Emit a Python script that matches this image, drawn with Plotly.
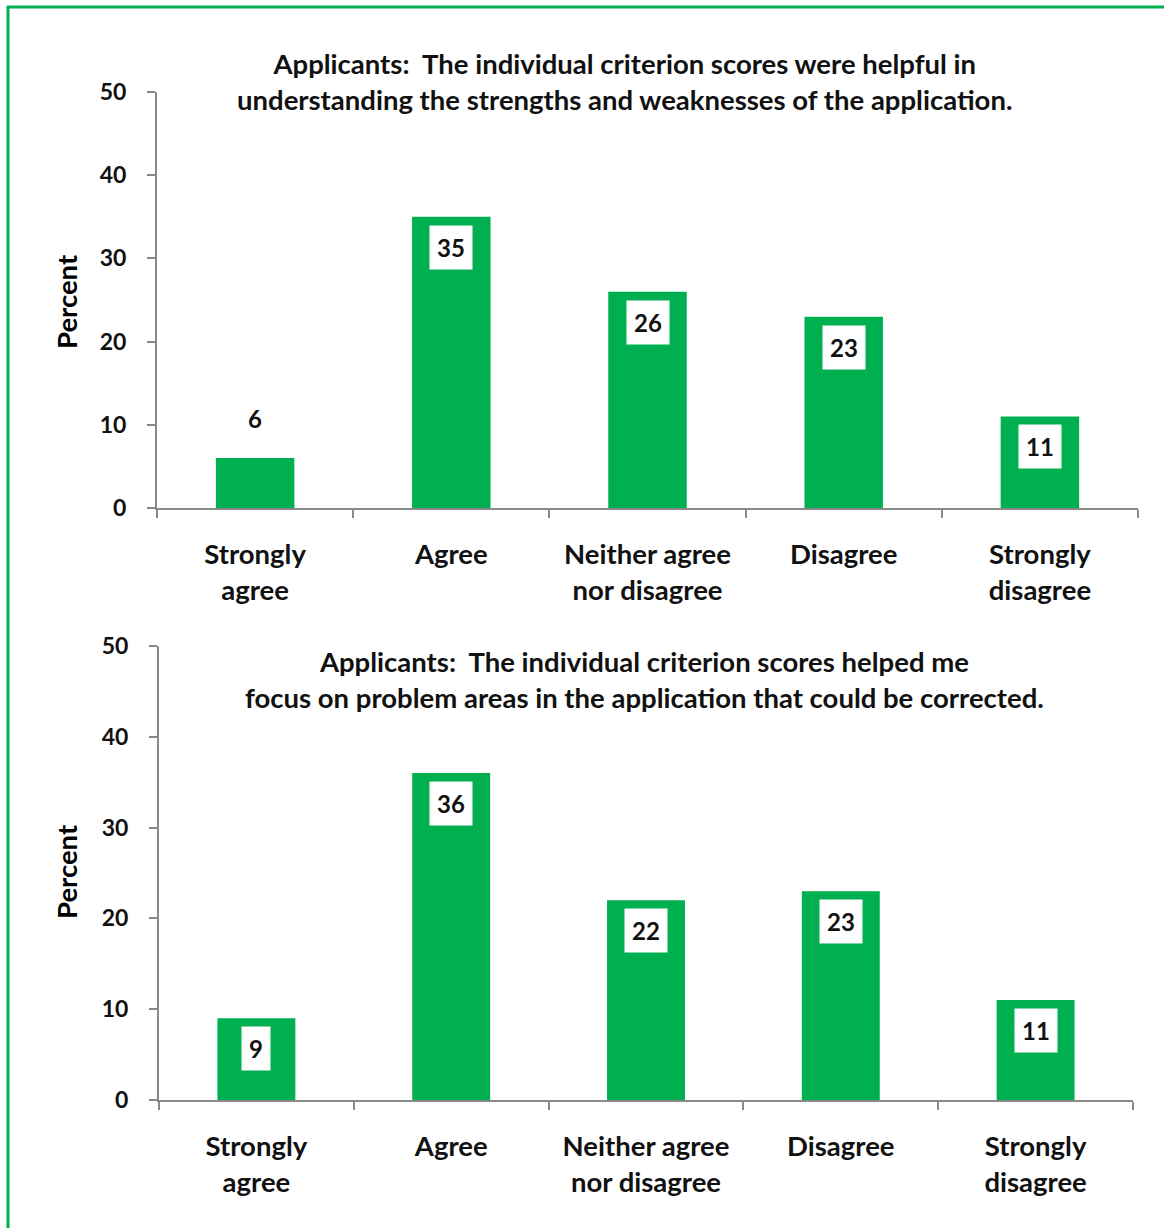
import plotly.graph_objects as go

W, H = 1164, 1228

categories = ["Strongly<br>agree", "Agree", "Neither agree<br>nor disagree", "Disagree", "Strongly<br>disagree"]
helpful_values = [6, 35, 26, 23, 11]
focus_values = [9, 36, 22, 23, 11]
y_ticks = [0, 10, 20, 30, 40, 50]

title_helpful = ("Applicants:  The individual criterion scores were helpful in<br>"
                 "understanding the strengths and weaknesses of the application.")
title_focus = ("Applicants:  The individual criterion scores helped me<br>"
               "focus on problem areas in the application that could be corrected.")

GREEN = "#00B050"
AXIS = "#898989"
TEXT = "#111111"
FONT = "Lato"

# plot-area boxes in pixels: (left, right, top, bottom)
panels = [
    dict(values=helpful_values, title=title_helpful, box=(157, 1138, 92, 508),
         title_xy=(624, 81), ylabel_y=302),
    dict(values=focus_values, title=title_focus, box=(159, 1133, 646, 1100),
         title_xy=(644, 679), ylabel_y=872),
]

fig = go.Figure()
annotations = []

for i, p in enumerate(panels, start=1):
    left, right, top, bottom = p["box"]
    xa = "x" if i == 1 else f"x{i}"
    ya = "y" if i == 1 else f"y{i}"
    fig.add_trace(go.Bar(
        x=categories, y=p["values"], xaxis=xa, yaxis=ya,
        marker=dict(color=GREEN, line=dict(width=0)), width=0.4,
        hoverinfo="skip", showlegend=False,
    ))
    axis_common = dict(showgrid=False, zeroline=False, showline=True,
                       linecolor=AXIS, linewidth=2, ticks="outside",
                       tickcolor=AXIS, ticklen=8, tickwidth=2,
                       automargin=False)
    fig.update_layout(**{
        ("xaxis" if i == 1 else f"xaxis{i}"): dict(
            axis_common, domain=[left / W, right / W], anchor=ya,
            type="category", tickson="boundaries", range=[-0.5, 4.5],
            tickfont=dict(family=FONT, size=27.5, color=TEXT, weight="bold"),
            ticklabelstandoff=21, fixedrange=True),
        ("yaxis" if i == 1 else f"yaxis{i}"): dict(
            axis_common, domain=[(H - bottom) / H, (H - top) / H], anchor=xa,
            range=[0, 50], tickvals=y_ticks,
            tickfont=dict(family=FONT, size=23, color=TEXT, weight="bold"),
            ticklabelstandoff=16, fixedrange=True),
    })

    px_per_unit = (bottom - top) / 50.0
    for cat, v in zip(categories, p["values"]):
        inside = v * px_per_unit > 60
        annotations.append(dict(
            x=cat, y=v, xref=xa, yref=ya, text=str(v), showarrow=False,
            yanchor="top" if inside else "bottom",
            yshift=-8 if inside else 24,
            bgcolor="white" if inside else "rgba(0,0,0,0)",
            borderpad=7 if inside else 0,
            font=dict(family=FONT, size=24, color=TEXT, weight="bold"),
        ))

    tx, ty = p["title_xy"]
    annotations.append(dict(
        x=tx / W, y=1 - ty / H, xref="paper", yref="paper", text=p["title"],
        showarrow=False, xanchor="center", yanchor="middle", align="center",
        font=dict(family=FONT, size=27.5, color=TEXT, weight="bold"),
    ))
    annotations.append(dict(
        x=66 / W, y=1 - p["ylabel_y"] / H, xref="paper", yref="paper",
        text="Percent", textangle=-90, showarrow=False,
        xanchor="center", yanchor="middle",
        font=dict(family=FONT, size=27.5, color="#000000", weight="bold"),
    ))

# green frame along the top and left edges
shapes = [
    dict(type="line", xref="paper", yref="paper", x0=7 / W, x1=1.0,
         y0=1 - 7 / H, y1=1 - 7 / H, line=dict(color=GREEN, width=3)),
    dict(type="line", xref="paper", yref="paper", x0=8 / W, x1=8 / W,
         y0=0, y1=1 - 6 / H, line=dict(color=GREEN, width=3)),
]

fig.update_layout(
    width=W, height=H,
    margin=dict(l=0, r=0, t=0, b=0, pad=0, autoexpand=False),
    paper_bgcolor="white", plot_bgcolor="white",
    annotations=annotations, shapes=shapes, bargap=0.6,
)

fig.write_html("out.html", config={"displayModeBar": False})
